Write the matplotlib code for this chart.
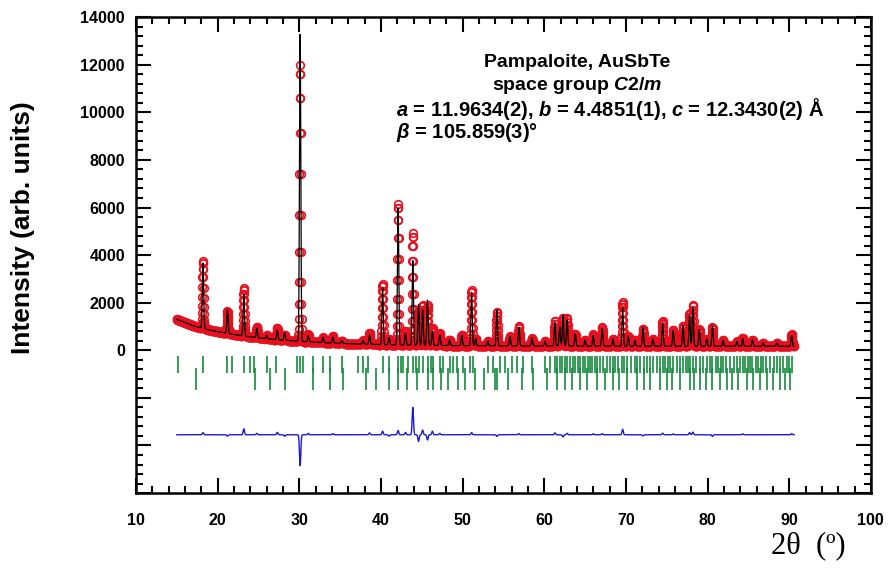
import numpy as np
import matplotlib.pyplot as plt
from matplotlib.ticker import MultipleLocator, FuncFormatter

# --- データ ---
# 測定範囲 2θ (°)
two_theta = np.round(np.arange(15.0, 90.62, 0.02), 2)

# バックグラウンドの読み取り点 (2θ, 強度)
bg_x = [15.0, 17.0, 19.0, 21.0, 23.0, 25.0, 27.0, 30.0, 33.0, 36.0, 40.0, 45.0, 50.0, 60.0, 70.0, 80.0, 91.0]
bg_y = [1300, 1030, 850, 720, 610, 520, 450, 380, 320, 280, 240, 210, 195, 180, 170, 170, 170]

# 計算ピーク位置と正味強度
peak_pos = [18.2, 21.2, 23.2, 24.8, 26.0, 27.3, 28.2, 30.1, 31.1, 32.9, 34.1, 35.2,
            37.8, 38.6, 40.2, 41.0, 42.1, 43.0, 43.9, 44.6, 45.1, 45.7, 46.3, 47.2,
            48.4, 49.9, 51.1, 51.6, 53.1, 54.2, 55.8, 56.9, 58.5, 60.1, 61.3, 61.9,
            62.3, 62.8, 63.8, 65.0, 66.0, 67.1, 68.4, 69.6, 70.3, 71.1, 72.1, 73.3,
            74.5, 75.8, 77.0, 77.8, 78.2, 79.0, 79.9, 80.6, 81.9, 83.6, 84.3, 85.5,
            86.8, 88.5, 90.3]
peak_int = [2750, 1000, 1750, 400, 150, 400, 300, 12900, 250, 220, 250, 120,
            150, 400, 2400, 300, 5750, 500, 3550, 1700, 1500, 1900, 600, 450,
            250, 450, 2250, 300, 200, 1500, 400, 780, 320, 200, 990, 800,
            1290, 1100, 520, 250, 450, 740, 300, 1620, 420, 250, 780, 300,
            990, 660, 870, 1300, 1620, 720, 300, 870, 250, 200, 320, 270,
            150, 150, 450]

# 差分 (obs - calc) のピーク
diff_pos = [18.2, 21.2, 23.2, 24.8, 27.3, 28.2, 30.1, 31.1, 34.1, 38.6, 40.2, 41.0,
            42.1, 43.0, 43.9, 44.6, 45.1, 45.7, 46.3, 47.2, 51.1, 54.2, 56.9, 61.3,
            62.3, 62.8, 66.0, 67.1, 69.6, 72.1, 74.5, 75.8, 77.8, 78.2, 80.6, 84.3, 90.3]
diff_amp = [90, -60, 250, 60, 100, -60, -1300, 60, 50, 80, 150, -60,
            180, 100, 1150, -280, 200, -220, 150, 60, 90, -70, 50, 80,
            -90, 60, 40, 50, 230, -50, 70, 40, 90, 110, -70, 40, 50]
DIFF_OFFSET = -3550

# ブラッグ反射位置（上段・下段）
refl_1 = [15.2, 18.2, 21.2, 21.7, 23.2, 24.0, 24.4, 26.0, 27.2, 29.7, 30.1, 30.5,
          31.7, 32.9, 33.8, 35.2, 37.2, 37.8, 38.4, 40.3, 41.0, 42.1, 42.4, 42.7,
          43.3, 43.9, 44.3, 44.6, 45.2, 45.8, 46.1, 46.4, 47.2, 47.6, 48.4, 48.8,
          49.3, 50.1, 50.9, 51.3, 53.1, 53.7, 54.6, 55.2, 56.0, 56.6, 57.4, 58.5,
          60.1, 60.7, 61.3, 61.6, 61.9, 62.2, 62.5, 62.8, 63.1, 63.5, 63.8, 64.1,
          64.4, 64.7, 65.0, 65.3, 65.6, 65.9, 66.2, 66.5, 66.8, 67.2, 67.7, 68.0,
          68.4, 68.7, 69.0, 69.5, 69.8, 70.1, 70.6, 71.1, 71.4, 71.7, 72.2, 72.6,
          72.9, 73.3, 73.8, 74.2, 74.5, 74.8, 75.1, 75.4, 75.8, 76.2, 76.6, 77.0,
          77.3, 77.6, 77.9, 78.2, 78.6, 79.1, 79.5, 79.9, 80.3, 80.6, 81.0, 81.3,
          81.6, 81.9, 82.3, 82.7, 83.2, 83.6, 84.0, 84.3, 84.6, 84.9, 85.2, 85.5,
          85.9, 86.2, 86.5, 86.8, 87.2, 87.6, 88.1, 88.5, 88.9, 89.2, 89.7, 90.0, 90.3]
refl_2 = [17.4, 24.6, 26.4, 28.2, 31.7, 33.8, 35.4, 38.2, 39.4, 41.0, 42.1, 43.2,
          44.4, 45.8, 46.4, 47.4, 48.2, 49.4, 50.3, 51.5, 52.6, 54.0, 54.2, 55.6,
          57.3, 58.6, 60.3, 61.5, 62.6, 63.4, 64.4, 65.2, 66.4, 67.4, 68.4, 69.2,
          70.1, 71.3, 72.2, 72.9, 74.2, 75.0, 75.6, 76.6, 77.8, 78.4, 79.1, 79.8,
          80.6, 81.5, 82.4, 83.0, 83.7, 84.8, 85.6, 86.4, 87.3, 88.0, 88.9, 89.5, 90.1]

# --- プロファイルの組み立て ---
SIGMA = 0.08
background = np.interp(two_theta, bg_x, bg_y)
calc = background.copy()
for p, h in zip(peak_pos, peak_int):
    calc += h * np.exp(-0.5 * ((two_theta - p) / SIGMA) ** 2)
diff = np.zeros_like(two_theta)
for p, a in zip(diff_pos, diff_amp):
    diff += a * np.exp(-0.5 * ((two_theta - p) / SIGMA) ** 2)
obs = calc + diff

# --- 描画 ---
plt.rcParams['font.family'] = ['Liberation Sans', 'DejaVu Sans']
plt.rcParams['mathtext.fontset'] = 'custom'
plt.rcParams['mathtext.rm'] = 'Liberation Sans:bold'
plt.rcParams['mathtext.it'] = 'Liberation Sans:bold:italic'

fig = plt.figure(figsize=(8.95, 5.72), dpi=100)
ax = fig.add_axes([0.152, 0.138, 0.821, 0.832])

ax.plot(two_theta, obs, linestyle='', marker='o', markersize=5.5,
        markerfacecolor='none', markeredgecolor='#e8101e', markeredgewidth=1.2, zorder=2)
ax.plot(two_theta, calc, color='black', linewidth=0.9, zorder=3)
ax.vlines(refl_1, -960, -220, color='#128a3c', linewidth=1.2, zorder=2)
ax.vlines(refl_2, -1680, -760, color='#128a3c', linewidth=1.2, zorder=2)
ax.plot(two_theta, diff + DIFF_OFFSET, color='#1a1ad6', linewidth=1.0, zorder=2)

ax.set_xlim(10, 100)
ax.set_ylim(-6000, 14000)
ax.xaxis.set_major_locator(MultipleLocator(10))
ax.xaxis.set_minor_locator(MultipleLocator(2))
ax.yaxis.set_major_locator(MultipleLocator(2000))
ax.yaxis.set_minor_locator(MultipleLocator(400))
ax.yaxis.set_major_formatter(FuncFormatter(lambda v, _: f'{v:.0f}' if v >= 0 else ''))

ax.tick_params(which='both', direction='in', top=True, right=True, width=1.5)
ax.tick_params(which='major', length=11)
ax.tick_params(which='minor', length=5)
ax.tick_params(axis='y', labelsize=11.5, pad=8)
ax.tick_params(axis='x', labelsize=11.5, pad=14)
for lab in ax.get_xticklabels() + ax.get_yticklabels():
    lab.set_fontweight('bold')
for s in ax.spines.values():
    s.set_linewidth(1.8)

fig.text(23 / 895, 1 - 228 / 572, 'Intensity (arb. units)', rotation=90,
         ha='center', va='center', fontsize=19, fontweight='bold')
fig.text(808 / 895, 1 - 546 / 572, '2θ  (º)', ha='center', va='center',
         fontsize=22, family=['Liberation Serif', 'DejaVu Serif'])

fig.text(577 / 895, 1 - 75 / 572, 'Pampaloite, AuSbTe\nspace group $C2/m$',
         ha='center', va='center', multialignment='center',
         fontsize=14, fontweight='bold', linespacing=1.3)
fig.text(396 / 895, 1 - 120 / 572,
         '$a$ = 11.9634(2), $b$ = 4.4851(1), $c$ = 12.3430(2) Å\n$\\beta$ = 105.859(3)°',
         ha='left', va='center', fontsize=14.5, fontweight='bold', linespacing=0.95)

plt.savefig('out.png', dpi=100)
